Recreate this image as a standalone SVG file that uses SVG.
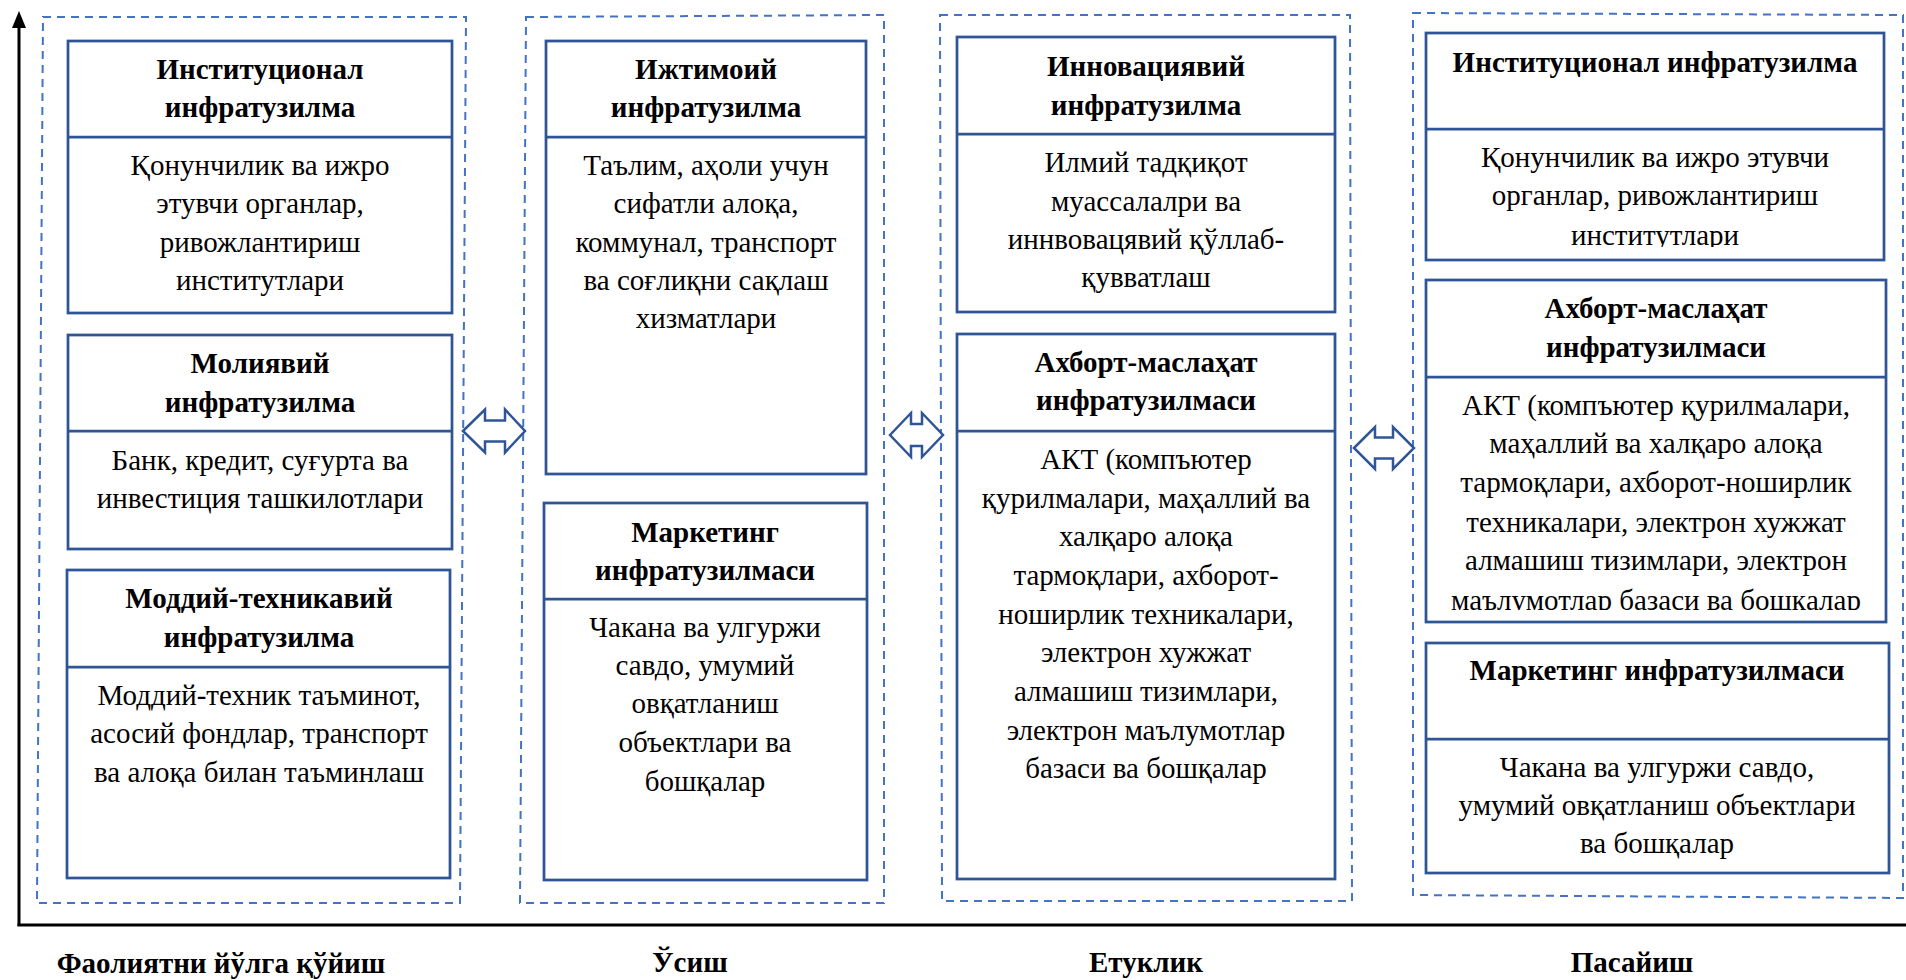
<svg xmlns="http://www.w3.org/2000/svg" width="1906" height="980" viewBox="0 0 1906 980">
<style>
.bg{fill:#fff}
.box{fill:#fff;stroke:#2F5597;stroke-width:2.75}
.dv{stroke:#2F5597;stroke-width:2.75}
.dash{fill:none;stroke:#4472C4;stroke-width:2;stroke-dasharray:8 6}
.arr{fill:#fff;stroke:#2F5597;stroke-width:2.5;stroke-linejoin:miter}
.axis{stroke:#000;stroke-width:3;fill:none}
.t{font-family:"Liberation Serif","Times New Roman",serif;font-size:29px;text-anchor:middle;fill:#000}
.b{font-weight:bold}
</style>
<defs>
<clipPath id="c41"><rect x="1426" y="129" width="460" height="118"/></clipPath>
<clipPath id="c42"><rect x="1426" y="377" width="460" height="233"/></clipPath>
</defs>
<rect class="bg" x="0" y="0" width="1906" height="980"/>

<g id="axes">
<line class="axis" x1="19" y1="926" x2="19" y2="24"/>
<polygon points="19,11 12,28 26,28" fill="#000"/>
<line class="axis" x1="17.5" y1="925" x2="1906" y2="925"/>
</g>

<g id="stages">
<path id="stage1" class="dash" d="M43,17 L466,17 L460,903 L37,903 Z"/>
<path id="stage2" class="dash" d="M526,17 L884,15 L884,903 L520,903 Z"/>
<path id="stage3" class="dash" d="M940,15 L1350,15 L1352,901 L942,901 Z"/>
<path id="stage4" class="dash" d="M1413,13 L1903,15 L1903,898 L1413,895 Z"/>
</g>

<g id="connectors">
<polygon class="arr" points="463,431 485,409.5 485,420.5 505,420.5 505,409.5 525,431 505,452.5 505,441.5 485,441.5 485,452.5"/>
<polygon class="arr" points="890,435 911,413 911,424 922,424 922,413 943,435 922,457 922,446 911,446 911,457"/>
<polygon class="arr" points="1354,448 1375,427 1375,437.5 1393,437.5 1393,427 1414,448 1393,469 1393,458.5 1375,458.5 1375,469"/>
</g>

<g id="n-institutional-1">
<rect class="box" x="68" y="41" width="384" height="272"/>
<line class="dv" x1="68" y1="137" x2="452" y2="137"/>
<text class="t b" x="260" y="79">Институционал</text>
<text class="t b" x="260" y="117">инфратузилма</text>
<text class="t" x="260" y="175">Қонунчилик ва ижро</text>
<text class="t" x="260" y="213">этувчи органлар,</text>
<text class="t" x="260" y="252">ривожлантириш</text>
<text class="t" x="260" y="290">институтлари</text>
</g>

<g id="n-financial">
<rect class="box" x="68" y="335" width="384" height="214"/>
<line class="dv" x1="68" y1="431" x2="452" y2="431"/>
<text class="t b" x="260" y="373">Молиявий</text>
<text class="t b" x="260" y="412">инфратузилма</text>
<text class="t" x="260" y="470">Банк, кредит, суғурта ва</text>
<text class="t" x="260" y="508">инвестиция ташкилотлари</text>
</g>

<g id="n-material">
<rect class="box" x="67" y="570" width="383" height="308"/>
<line class="dv" x1="67" y1="667" x2="450" y2="667"/>
<text class="t b" x="259" y="608">Моддий-техникавий</text>
<text class="t b" x="259" y="647">инфратузилма</text>
<text class="t" x="259" y="705">Моддий-техник таъминот,</text>
<text class="t" x="259" y="743">асосий фондлар, транспорт</text>
<text class="t" x="259" y="782">ва алоқа билан таъминлаш</text>
</g>

<g id="n-social">
<rect class="box" x="546" y="41" width="320" height="433"/>
<line class="dv" x1="546" y1="137" x2="866" y2="137"/>
<text class="t b" x="706" y="79">Ижтимоий</text>
<text class="t b" x="706" y="117">инфратузилма</text>
<text class="t" x="706" y="175">Таълим, аҳоли учун</text>
<text class="t" x="706" y="213">сифатли алоқа,</text>
<text class="t" x="706" y="252">коммунал, транспорт</text>
<text class="t" x="706" y="290">ва соғлиқни сақлаш</text>
<text class="t" x="706" y="328">хизматлари</text>
</g>

<g id="n-marketing-2">
<rect class="box" x="544" y="503" width="323" height="377"/>
<line class="dv" x1="544" y1="599" x2="867" y2="599"/>
<text class="t b" x="705" y="542">Маркетинг</text>
<text class="t b" x="705" y="580">инфратузилмаси</text>
<text class="t" x="705" y="637">Чакана ва улгуржи</text>
<text class="t" x="705" y="675">савдо, умумий</text>
<text class="t" x="705" y="713">овқатланиш</text>
<text class="t" x="705" y="752">объектлари ва</text>
<text class="t" x="705" y="791">бошқалар</text>
</g>

<g id="n-innovation">
<rect class="box" x="957" y="37" width="378" height="275"/>
<line class="dv" x1="957" y1="134" x2="1335" y2="134"/>
<text class="t b" x="1146" y="76">Инновациявий</text>
<text class="t b" x="1146" y="115">инфратузилма</text>
<text class="t" x="1146" y="172">Илмий тадқиқот</text>
<text class="t" x="1146" y="211">муассалалри ва</text>
<text class="t" x="1146" y="249">иннвовацявий қўллаб-</text>
<text class="t" x="1146" y="287">қувватлаш</text>
</g>

<g id="n-info-3">
<rect class="box" x="957" y="334" width="378" height="545"/>
<line class="dv" x1="957" y1="431" x2="1335" y2="431"/>
<text class="t b" x="1146" y="372">Ахборт-маслаҳат</text>
<text class="t b" x="1146" y="410">инфратузилмаси</text>
<text class="t" x="1146" y="469">АКТ (компъютер</text>
<text class="t" x="1146" y="508">қурилмалари, маҳаллий ва</text>
<text class="t" x="1146" y="546">халқаро алоқа</text>
<text class="t" x="1146" y="585">тармоқлари, ахборот-</text>
<text class="t" x="1146" y="624">ноширлик техникалари,</text>
<text class="t" x="1146" y="662">электрон хужжат</text>
<text class="t" x="1146" y="701">алмашиш тизимлари,</text>
<text class="t" x="1146" y="740">электрон маълумотлар</text>
<text class="t" x="1146" y="778">базаси ва бошқалар</text>
</g>

<g id="n-institutional-4">
<rect class="box" x="1426" y="33" width="458" height="227"/>
<line class="dv" x1="1426" y1="129" x2="1884" y2="129"/>
<text class="t b" x="1655" y="72">Институционал инфратузилма</text>
<g clip-path="url(#c41)">
<text class="t" x="1655" y="167">Қонунчилик ва ижро этувчи</text>
<text class="t" x="1655" y="205">органлар, ривожлантириш</text>
<text class="t" x="1655" y="245">институтлари</text>
</g>
</g>

<g id="n-info-4">
<rect class="box" x="1426" y="280" width="460" height="342"/>
<line class="dv" x1="1426" y1="377" x2="1886" y2="377"/>
<text class="t b" x="1656" y="318">Ахборт-маслаҳат</text>
<text class="t b" x="1656" y="357">инфратузилмаси</text>
<g clip-path="url(#c42)">
<text class="t" x="1656" y="415">АКТ (компъютер қурилмалари,</text>
<text class="t" x="1656" y="453">маҳаллий ва халқаро алоқа</text>
<text class="t" x="1656" y="492">тармоқлари, ахборот-ноширлик</text>
<text class="t" x="1656" y="532">техникалари, электрон хужжат</text>
<text class="t" x="1656" y="570">алмашиш тизимлари, электрон</text>
<text class="t" x="1656" y="610">маълумотлар базаси ва бошқалар</text>
</g>
</g>

<g id="n-marketing-4">
<rect class="box" x="1426" y="643" width="463" height="230"/>
<line class="dv" x1="1426" y1="739" x2="1889" y2="739"/>
<text class="t b" x="1657" y="680">Маркетинг инфратузилмаси</text>
<text class="t" x="1657" y="777">Чакана ва улгуржи савдо,</text>
<text class="t" x="1657" y="815">умумий овқатланиш объектлари</text>
<text class="t" x="1657" y="853">ва бошқалар</text>
</g>

<g id="labels">
<text class="t b" x="221" y="973">Фаолиятни йўлга қўйиш</text>
<text class="t b" x="690" y="972">Ўсиш</text>
<text class="t b" x="1146" y="972">Етуклик</text>
<text class="t b" x="1632" y="972">Пасайиш</text>
</g>
</svg>
